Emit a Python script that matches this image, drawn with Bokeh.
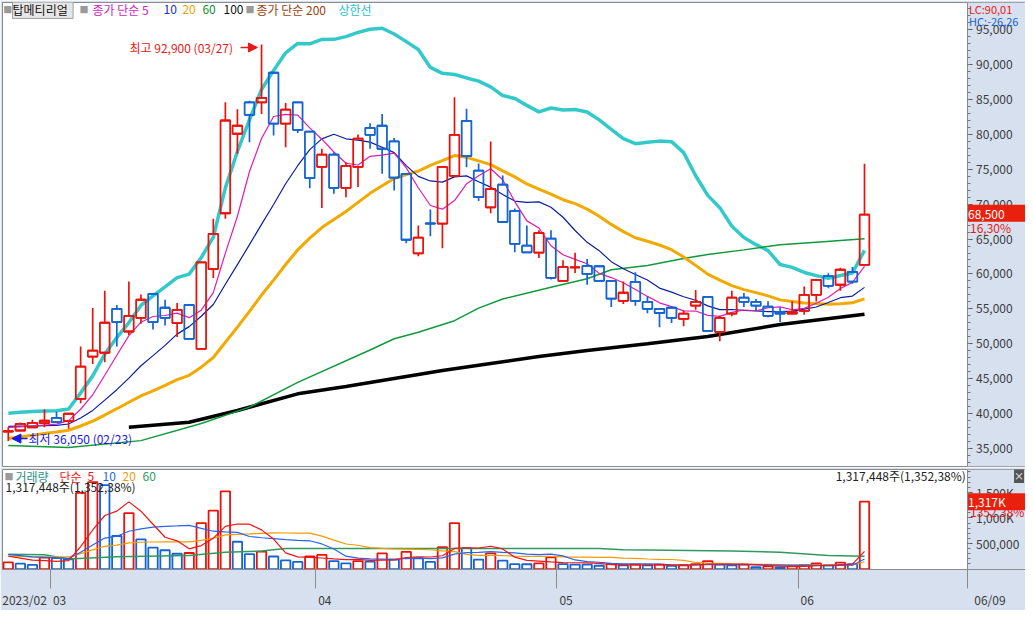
import pandas as pd
from bokeh.plotting import figure
from bokeh.models import (Range1d, FixedTicker, NumeralTickFormatter, Label, Arrow, NormalHead,
                          ColumnDataSource, BoxAnnotation)
from bokeh.layouts import column
from bokeh.embed import file_html
from bokeh.resources import INLINE

# ---------------- data ----------------
dates = ["2023-02-23", "2023-02-24", "2023-02-27", "2023-02-28",
         "2023-03-02", "2023-03-03", "2023-03-06", "2023-03-07", "2023-03-08", "2023-03-09", "2023-03-10",
         "2023-03-13", "2023-03-14", "2023-03-15", "2023-03-16", "2023-03-17",
         "2023-03-20", "2023-03-21", "2023-03-22", "2023-03-23", "2023-03-24",
         "2023-03-27", "2023-03-28", "2023-03-29", "2023-03-30", "2023-03-31",
         "2023-04-03", "2023-04-04", "2023-04-05", "2023-04-06", "2023-04-07",
         "2023-04-10", "2023-04-11", "2023-04-12", "2023-04-13", "2023-04-14",
         "2023-04-17", "2023-04-18", "2023-04-19", "2023-04-20", "2023-04-21",
         "2023-04-24", "2023-04-25", "2023-04-26", "2023-04-27", "2023-04-28",
         "2023-05-02", "2023-05-03", "2023-05-04", "2023-05-08", "2023-05-09",
         "2023-05-10", "2023-05-11", "2023-05-12", "2023-05-15", "2023-05-16",
         "2023-05-17", "2023-05-18", "2023-05-19", "2023-05-22", "2023-05-23",
         "2023-05-24", "2023-05-25", "2023-05-26", "2023-05-30", "2023-05-31",
         "2023-06-01", "2023-06-02", "2023-06-05", "2023-06-07", "2023-06-08", "2023-06-09"]

open_ = [37400, 37550, 38000, 38600, 39350, 38900, 42100, 48150, 48700, 55000,
         51750, 53700, 57150, 55150, 52950, 55550, 49250, 60700, 68700, 80100,
         84600, 84600, 88850, 81550, 84600, 80400, 75350, 77100, 72350, 75350,
         80950, 81250, 79000, 74350, 62950, 67250, 67200, 74050, 81950, 74800,
         69550, 72800, 69050, 64050, 63050, 65050, 59000, 60950, 61150, 61100,
         59000, 56150, 58850, 56000, 55000, 55150, 53550, 55450, 56700, 51700,
         54300, 56600, 56000, 55300, 54550, 54300, 54700, 57000, 59700, 58450,
         60300, 61300]
high = [38000, 38700, 39100, 40550, 40250, 39950, 49600, 55100, 57600, 55550,
        58900, 57050, 57150, 56300, 55850, 55550, 61650, 67900, 84600, 83600,
        84850, 92900, 88850, 84500, 84600, 80400, 77950, 77450, 76000, 80000,
        81600, 82950, 79500, 74350, 66950, 69250, 75350, 85350, 83700, 75850,
        79000, 74100, 69400, 66950, 66250, 66250, 61950, 63050, 62150, 61100,
        59000, 58900, 60250, 56800, 55000, 55150, 54750, 57700, 56700, 54000,
        57600, 57250, 56400, 56100, 55150, 56100, 58200, 59300, 60100, 60900,
        61000, 75800]
low = [36050, 37500, 37900, 38000, 38700, 37800, 41450, 47100, 47350, 49600,
       51250, 52850, 52050, 52600, 50950, 50700, 49250, 59400, 67900, 77250,
       78900, 82950, 79850, 78150, 80200, 72300, 69450, 71500, 71000, 72450,
       77950, 74350, 71950, 64400, 62550, 65400, 63700, 74050, 75300, 70450,
       68700, 67450, 63100, 63050, 62300, 59200, 59000, 60150, 58450, 59000,
       55250, 55700, 55450, 54350, 52350, 52950, 52500, 54850, 51850, 50350,
       53950, 55250, 54750, 53800, 53100, 54300, 54150, 56050, 57950, 57600,
       58600, 61300]
close = [37450, 38500, 38650, 38950, 38750, 39950, 46700, 49000, 53000, 53100,
         54000, 56300, 53100, 53700, 54850, 50700, 61650, 65750, 82000, 81250,
         82800, 85250, 81550, 83550, 80650, 73750, 77100, 72350, 75500, 79400,
         79950, 77950, 73800, 64900, 65200, 67200, 75350, 79950, 76900, 71000,
         72200, 67450, 64300, 63100, 65900, 59450, 61000, 60950, 60000, 59000,
         56450, 57300, 56150, 55000, 54400, 53700, 54300, 56000, 51850, 53700,
         56600, 56000, 55450, 54000, 54300, 54550, 57000, 59150, 58300, 60600,
         58900, 68500]
volume = [131000, 106000, 81000, 225000, 217000, 192000, 1490000, 1700000, 1640000, 647000,
          1096000, 581000, 419000, 369000, 300000, 315000, 899000, 1142000, 1520000, 535000,
          293000, 343000, 247000, 172000, 141000, 247000, 278000, 157000, 111000, 157000,
          146000, 308000, 187000, 338000, 212000, 141000, 429000, 899000, 409000, 187000,
          308000, 167000, 96000, 95000, 111000, 232000, 96000, 88000, 86000, 66000,
          96000, 76000, 86000, 76000, 86000, 66000, 76000, 96000, 157000, 86000,
          76000, 86000, 40000, 56000, 35000, 56000, 76000, 111000, 76000, 126000,
          97416, 1317448]

# sessions before 02/23 (off the chart), estimated from where the average lines start
prior_close = [33600, 34000, 33800, 34500, 35000, 34600, 35200, 35400, 34900, 35400,
               38300, 38500, 38200, 38400, 38100, 38200, 38000, 38300, 38100]
prior_volume = [210000, 230000, 200000, 250000, 220000, 190000, 240000, 230000, 210000, 230000,
                300000, 330000, 310000, 320000, 310000, 290000, 270000, 280000, 289000]

# long averages
ma60_dates = ["2023-02-23", "2023-03-03", "2023-03-13", "2023-03-20", "2023-03-24", "2023-03-30",
              "2023-04-07", "2023-04-11", "2023-04-13", "2023-04-18", "2023-04-20", "2023-04-24",
              "2023-04-28", "2023-05-04", "2023-05-09", "2023-05-12", "2023-05-17", "2023-05-19",
              "2023-05-24", "2023-05-30", "2023-06-02", "2023-06-09"]
ma60_vals = [35400, 35100, 36100, 38550, 40900, 44450, 49100, 50700, 51650, 53300, 55100, 56400,
             58100, 59300, 60600, 61200, 62200, 62800, 63450, 64200, 64550, 65050]
ma100_dates = ["2023-03-10", "2023-03-17", "2023-03-23", "2023-03-30", "2023-04-05", "2023-04-11",
               "2023-04-17", "2023-04-21", "2023-04-27", "2023-05-04", "2023-05-12", "2023-05-19",
               "2023-05-30", "2023-06-09"]
ma100_vals = [38020, 38740, 40420, 42810, 43860, 45000, 46150, 47160, 48160, 49020, 49980, 51030,
              52750, 54230]
vma60_dates = ["2023-02-23", "2023-02-28", "2023-03-03", "2023-03-09", "2023-03-17", "2023-03-22",
               "2023-03-27", "2023-03-29", "2023-05-08", "2023-05-10", "2023-05-23", "2023-05-30",
               "2023-06-05", "2023-06-09"]
vma60_vals = [290000, 280000, 200000, 240000, 268000, 330000, 354000, 404000, 404000, 380000,
              354000, 330000, 265000, 253000]

price_ticks = [35000, 40000, 45000, 50000, 55000, 60000, 65000, 70000, 75000, 80000, 85000, 90000, 95000]
vol_ticks = [500000, 1000000, 1500000]
vol_tick_labels = ["500,000", "1,000K", "1,500K"]

# ---------------- derived ----------------
n = len(dates)
xs = list(range(n))
pos = {d: i for i, d in enumerate(dates)}
k = len(prior_close)
cs = pd.Series(prior_close + close, dtype=float)
ma5 = cs.rolling(5).mean().iloc[k:].tolist()
ma10 = cs.rolling(10).mean().iloc[k:].tolist()
ma20s = cs.rolling(20).mean()
ma20 = ma20s.iloc[k:].tolist()
upper = (ma20s + 2 * cs.rolling(20).std(ddof=0)).iloc[k:].tolist()
vs = pd.Series(prior_volume + volume, dtype=float)
vma5 = vs.rolling(5).mean().iloc[k:].tolist()
vma10 = vs.rolling(10).mean().iloc[k:].tolist()
vma20 = vs.rolling(20).mean().iloc[k:].tolist()

RED = "#e8140c"
BLUE = "#1464d2"
FONT = "Noto Sans CJK KR"
AXBG = "#d6e0ee"
GRID = "#8c8c8c"

ccol = [RED if c >= o else BLUE for o, c in zip(open_, close)]
vcol = [RED if (i == 0 or volume[i] > volume[i - 1]) else BLUE for i in range(n)]
src = ColumnDataSource(dict(
    x=xs, xl=[x - 0.4 for x in xs], xr=[x + 0.4 for x in xs],
    o=open_, h=high, l=low, c=close,
    top=[max(o, c) for o, c in zip(open_, close)],
    bot=[min(o, c) for o, c in zip(open_, close)],
    color=ccol))
vsrc = ColumnDataSource(dict(x=xs, v=volume, color=vcol))

AX = 79.5                      # x position of the right-hand scale (inside the frame)
XR = Range1d(-0.48, 84.35)
PY0, PY1 = 32390, 98920
VY0, VY1 = -7500, 1947000


def style_scale(ax):
    ax.fixed_location = AX
    ax.axis_line_color = GRID
    ax.major_tick_line_color = "#555555"
    ax.minor_tick_line_color = "#777777"
    ax.major_tick_out = 5
    ax.major_tick_in = 0
    ax.minor_tick_out = 3
    ax.minor_tick_in = 0
    ax.major_label_text_font = FONT
    ax.major_label_text_font_size = "12px"
    ax.major_label_text_color = "#3c3c3c"
    ax.major_label_standoff = 4


def lab(fig, x, y, text, color="#222222", size="12px", align="left", **kw):
    fig.add_layout(Label(x=x, y=y, text=text, text_color=color, text_font=FONT,
                         text_font_size=size, text_align=align, text_baseline="middle", **kw))


# ---------------- price pane ----------------
p = figure(width=1025, height=467, x_range=XR, y_range=Range1d(PY0, PY1),
           output_backend="svg", toolbar_location=None, x_axis_location=None,
           y_axis_location="right", min_border_left=2, min_border_right=0,
           min_border_top=2, min_border_bottom=1)
p.grid.visible = False
p.outline_line_color = GRID
p.border_fill_color = AXBG
p.background_fill_color = "white"
p.add_layout(BoxAnnotation(left=AX, fill_color=AXBG, fill_alpha=1, line_alpha=0, level="underlay"))
ya = p.yaxis[0]
ya.ticker = FixedTicker(ticks=price_ticks, minor_ticks=list(range(33000, 99000, 1000)))
ya.formatter = NumeralTickFormatter(format="0,0")
style_scale(ya)

p.line(xs, upper, line_color="#33c9c9", line_width=3.5)
p.line([pos[d] for d in ma100_dates], ma100_vals, line_color="black", line_width=3.5)
p.line([pos[d] for d in ma60_dates], ma60_vals, line_color="#109a3c", line_width=1.5)
p.line(xs, ma20, line_color="#f2a900", line_width=3)
p.line(xs, ma10, line_color="#0a1ea0", line_width=1.2)
p.line(xs, ma5, line_color="#e01cb4", line_width=1.2)

p.segment("x", "top", "x", "h", source=src, line_color="color", line_width=1.7)
p.segment("x", "l", "x", "bot", source=src, line_color="color", line_width=1.7)
p.vbar(x="x", width=0.8, top="top", bottom="bot", source=src, fill_alpha=0,
       line_color="color", line_width=1.8)
p.segment("xl", "c", "xr", "c", source=src, line_color="color", line_width=1.8)
p.segment("xl", "o", "xr", "o", source=src, line_color="color", line_width=1.8)

# legend row
LY = 97850
lab(p, -0.42, LY, "■", "#9a9a9a", "9px")
lab(p, 0.35, LY, " 탑메티리얼 ", "#111111", "12px",
    background_fill_color="#e6e6e6", border_line_color="#a0a0a0")
lab(p, 5.9, LY, "■", "#9a9a9a", "9px")
lab(p, 6.98, LY, "종가 단순 5", "#d21cbe")
lab(p, 12.87, LY, "10", "#1030d0")
lab(p, 14.44, LY, "20", "#f0a000")
lab(p, 16.1, LY, "60", "#109030")
lab(p, 17.85, LY, "100", "#111111")
lab(p, 19.67, LY, "■", "#9a9a9a", "9px")
lab(p, 20.58, LY, "종가 단순 200", "#a0400c")
lab(p, 27.38, LY, "상한선", "#22c4c4")

# high / low marks
lab(p, 10.05, 92470, "최고 92,900 (03/27)", "#e81818")
p.add_layout(Arrow(end=NormalHead(size=9, fill_color="#e81818", line_color="#e81818"),
                   x_start=19.26, y_start=92470, x_end=20.66, y_end=92470,
                   line_color="#e81818", line_width=1.5))
lab(p, 1.68, 36400, "최저 36,050 (02/23)", "#1818e8")
p.add_layout(Arrow(end=NormalHead(size=9, fill_color="#1818e8", line_color="#1818e8"),
                   x_start=1.6, y_start=36400, x_end=0.3, y_end=36400,
                   line_color="#1818e8", line_width=1.5))

# texts on the scale strip
lab(p, 79.67, 97990, "LC:90,01", "#e81818", "11px")
lab(p, 79.67, 96300, "HC:-26,26", "#1464d2", "11px")
lab(p, 79.58, 68700, " 68,500       ", "white", background_fill_color="#e8200c")
lab(p, 79.75, 66660, "16,30%", "#e81818")

# ---------------- volume pane ----------------
v = figure(width=1025, height=143, x_range=XR, y_range=Range1d(VY0, VY1),
           output_backend="svg", toolbar_location=None, y_axis_location="right",
           x_axis_location="below", min_border_left=2, min_border_right=0,
           min_border_top=2, min_border_bottom=19)
v.grid.visible = False
v.outline_line_color = GRID
v.border_fill_color = AXBG
v.background_fill_color = "white"
v.add_layout(BoxAnnotation(left=AX, fill_color=AXBG, fill_alpha=1, line_alpha=0, level="underlay"))
vy = v.yaxis[0]
vy.ticker = FixedTicker(ticks=vol_ticks, minor_ticks=list(range(100000, 2000000, 100000)))
vy.major_label_overrides = {t: s for t, s in zip(vol_ticks, vol_tick_labels)}
style_scale(vy)

# date axis: separators at month changes, labels just right of them, last date on the strip
firsts = [i for i in range(n) if i == 0 or dates[i][5:7] != dates[i - 1][5:7]]
seps = [i - 0.5 for i in firsts[1:]] + [AX]
lab_pos = [firsts[0] - 0.5 + 1.85] + [i - 0.5 + 0.75 for i in firsts[1:]] + [AX + 1.9]
lab_txt = ([dates[0][:4] + "/" + dates[0][5:7]] + [dates[i][5:7] for i in firsts[1:]]
           + [dates[-1][5:7] + "/" + dates[-1][8:10]])
xa = v.xaxis[0]
xa.ticker = FixedTicker(ticks=lab_pos, minor_ticks=seps)
xa.major_label_overrides = {t: s for t, s in zip(lab_pos, lab_txt)}
xa.axis_line_color = GRID
xa.major_tick_out = 0
xa.major_tick_in = 0
xa.minor_tick_out = 19
xa.minor_tick_in = 0
xa.minor_tick_line_color = "#8c8c8c"
xa.major_label_text_font = FONT
xa.major_label_text_font_size = "12px"
xa.major_label_text_color = "#3c3c3c"
xa.major_label_standoff = 2

v.vbar(x="x", width=0.78, top="v", bottom=0, source=vsrc, fill_alpha=0,
       line_color="color", line_width=1.8)
v.line([pos[d] for d in vma60_dates], vma60_vals, line_color="#2e9a5e", line_width=1.5)
v.line(xs, vma20, line_color="#f59a00", line_width=1.2)
v.line(xs, vma10, line_color="#2a64ec", line_width=1.2)
v.line(xs, vma5, line_color="#f01414", line_width=1.2)

VY = 1810000
lab(v, -0.32, VY, "■", "#9a9a9a", "9px")
lab(v, 0.6, VY, "거래량", "#2f8f8a")
lab(v, 4.25, VY, "단순", "#f01414")
lab(v, 6.57, VY, "5", "#f01414")
lab(v, 7.81, VY, "10", "#2a64ec")
lab(v, 9.47, VY, "20", "#f59a00")
lab(v, 11.13, VY, "60", "#2e9a5e")
lab(v, -0.23, 1618000, "1,317,448주(1,352,38%)", "#222222")
lab(v, 79.4, 1823000, "1,317,448주(1,352,38%)", "#222222", align="right")

lab(v, 79.58, volume[-1], " 1,317K       ", "white", background_fill_color="#e8200c")
lab(v, 79.75, 1133000, "1352,38%", "#e81818")
lab(v, 83.4, 1831000, "×", "white", "10px", background_fill_color="#555555")

layout = column(p, v, spacing=0)
open("out.html", "w").write(file_html(layout, INLINE))
